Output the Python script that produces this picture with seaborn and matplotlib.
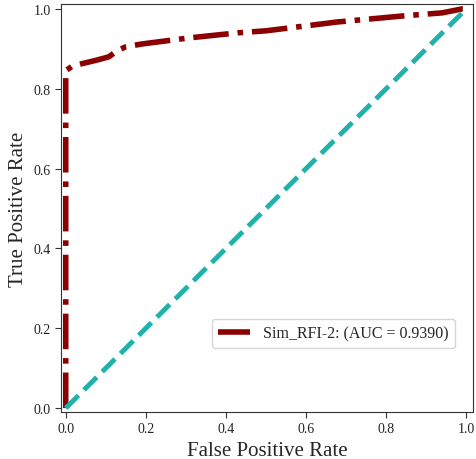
import matplotlib
matplotlib.use("Agg")
import matplotlib.pyplot as plt
import seaborn as sns
import pandas as pd

fpr = [0.0, 0.0, 0.017, 0.079, 0.108, 0.128, 0.15, 0.19, 0.306, 0.43, 0.50, 0.677, 0.85, 0.94, 0.99, 1.0]
tpr = [0.0, 0.845, 0.857, 0.872, 0.88, 0.895, 0.905, 0.912, 0.927, 0.94, 0.945, 0.967, 0.983, 0.99, 1.0, 1.0]
diag = [0.0, 1.0]
label = "Sim_RFI-2: (AUC = 0.9390)"

sns.set_style("ticks")
plt.rcParams['font.family'] = ['Liberation Serif', 'DejaVu Serif']

fig = plt.figure(figsize=(4.76, 4.60), dpi=100)
ax = fig.add_axes([0.128, 0.102, 0.866, 0.887])

roc = pd.DataFrame({"fpr": fpr, "tpr": tpr})
sns.lineplot(data=roc, x="fpr", y="tpr", sort=False, estimator=None, ax=ax,
             color="#8B0000", lw=4, linestyle="-.", label=label)
sns.lineplot(x=diag, y=diag, ax=ax, color="#20B2AA", lw=3.5, linestyle="--", sort=False, estimator=None)

ax.set_xlim(-0.012, 1.017)
ax.set_ylim(-0.01, 1.012)
ax.set_xticks([0.0, 0.2, 0.4, 0.6, 0.8, 1.0])
ax.set_yticks([0.0, 0.2, 0.4, 0.6, 0.8, 1.0])
ax.tick_params(labelsize=10, color="#333333", labelcolor="#222222", length=4)
for s in ax.spines.values():
    s.set_color("#333333")
ax.set_xlabel("False Positive Rate", fontsize=15)
ax.set_ylabel("True Positive Rate", fontsize=15)
ax.legend(loc="lower right", fontsize=11.5, bbox_to_anchor=(0.975, 0.138))

fig.savefig("out.png", dpi=100)
